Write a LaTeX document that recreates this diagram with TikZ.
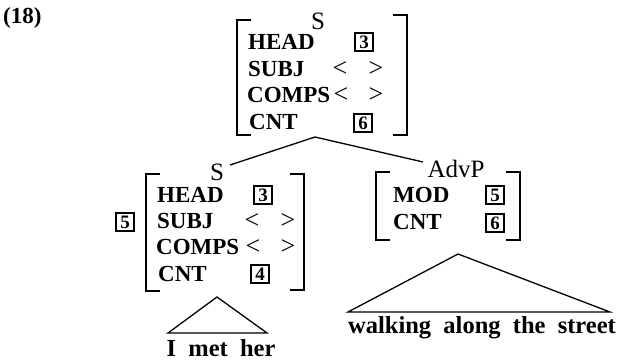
\documentclass[tikz,border=0pt]{standalone}
\usepackage{fontspec}
\newfontfamily\featfont{Liberation Serif}[WordSpace=2]
\begin{document}
\begin{tikzpicture}[x=1pt,y=-1pt,
  feat/.style={font=\featfont\bfseries\fontsize{23}{23}\selectfont, anchor=base west, inner sep=0},
  ang/.style={font=\featfont\fontsize{26}{26}\selectfont, anchor=base, inner sep=0,
              text height=14pt, text depth=0pt},
  tag/.style={draw, line width=1.8pt, minimum width=18pt, minimum height=18pt, inner sep=0,
              font=\featfont\bfseries\fontsize{19}{19}\selectfont},
  cat/.style={font=\featfont\fontsize{25}{25}\selectfont, inner sep=0},
  word/.style={font=\featfont\bfseries\fontsize{24.5}{24.5}\selectfont, anchor=base, inner sep=0},
  brk/.style={line width=1.5pt},
  edge/.style={line width=1.3pt}]
\useasboundingbox (0,0) rectangle (621,363);

% example number
\node[font=\featfont\bfseries\fontsize{23}{23}\selectfont, anchor=base west, inner sep=0] (ex) at (3,24) {(18)};

% mother S
\node[cat] (sTop) at (318,21) {S};
\draw[brk] (251,20) -- (237,20) -- (237,135) -- (251,135);
\draw[brk] (393,15) -- (407,15) -- (407,135) -- (393,135);
\node[feat] (tH) at (248,50) {HEAD};
\node[feat] (tS) at (248,77) {SUBJ};
\node[feat] (tC) at (247,103) {COMPS};
\node[feat] (tN) at (249,130) {CNT};
\node[tag] (tHv) at (364,42) {3};
\node[ang] (tSa) at (340,77) {<};
\node[ang] (tSb) at (376,77) {>};
\node[ang] (tCa) at (341,103) {<};
\node[ang] (tCb) at (376,103) {>};
\node[tag] (tNv) at (363,123) {6};
\coordinate (foot) at (315,137);

% head daughter S
\node[cat] (sL) at (217,172) {S};
\draw[brk] (160,174) -- (146,174) -- (146,291) -- (160,291);
\draw[brk] (290,174) -- (304,174) -- (304,290) -- (290,290);
\node[tag] (lTag) at (125,222) {5};
\node[feat] (lH) at (157,203) {HEAD};
\node[feat] (lS) at (157,229) {SUBJ};
\node[feat] (lC) at (156,255) {COMPS};
\node[feat] (lN) at (158,282) {CNT};
\node[tag] (lHv) at (263,195) {3};
\node[ang] (lSa) at (252,229) {<};
\node[ang] (lSb) at (288,229) {>};
\node[ang] (lCa) at (253,255) {<};
\node[ang] (lCb) at (288,255) {>};
\node[tag] (lNv) at (260,274) {4};

% adjunct AdvP
\node[cat] (adv) at (456,169) {AdvP};
\draw[brk] (390,172) -- (376,172) -- (376,240) -- (390,240);
\draw[brk] (506,172) -- (520,172) -- (520,240) -- (506,240);
\node[feat] (aM) at (393,203) {MOD};
\node[feat] (aN) at (393,230) {CNT};
\node[tag] (aMv) at (495,195) {5};
\node[tag] (aNv) at (495,223) {6};

% branches
\draw[edge] (foot) -- (230,165);
\draw[edge] (foot) -- (423,162);

% triangles over the word strings
\node[word] (w1) at (221,356) {I met her};
\coordinate (t1) at (217,297);
\draw[edge] (t1) -- (168,333) -- (267,333) -- cycle;
\node[word] (w2) at (482,333) {walking along the street};
\coordinate (t2) at (458,254);
\draw[edge] (t2) -- (348,312) -- (610,312) -- cycle;
\end{tikzpicture}
\end{document}
